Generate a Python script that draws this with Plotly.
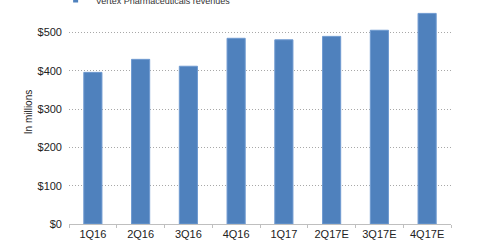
import plotly.graph_objects as go

quarters = ["1Q16", "2Q16", "3Q16", "4Q16", "1Q17", "2Q17E", "3Q17E", "4Q17E"]
revenues = [396, 430, 412, 485, 481, 490, 506, 550]
series_name = "Vertex Pharmaceuticals revenues"
y_ticks = [0, 100, 200, 300, 400, 500]
y_tick_labels = ["$0", "$100", "$200", "$300", "$400", "$500"]
y_top_tick = 600
y_top_label = "$600"

FONT = "Liberation Sans, Arial, sans-serif"
BLUE = "#4f81bd"

fig = go.Figure()
fig.add_trace(go.Bar(
    x=quarters, y=revenues, name=series_name,
    marker=dict(color=BLUE, line=dict(color="#6f9ad0", width=1)),
    showlegend=False, legendgroup="rev",
))
# legend entry with a small square swatch, as in the reference
fig.add_trace(go.Scatter(
    x=[None], y=[None], mode="markers", name=series_name, legendgroup="rev",
    marker=dict(symbol="square", size=5, color=BLUE), showlegend=True,
))

fig.add_annotation(
    x=0, xref="paper", xanchor="right", xshift=-6,
    y=y_top_tick, yref="y", yanchor="middle", yshift=-3,
    text=y_top_label, showarrow=False,
    font=dict(family=FONT, size=11, color="#222222"),
)

fig.update_layout(
    width=480, height=251,
    margin=dict(l=69, r=29, t=0, b=27, autoexpand=False),
    paper_bgcolor="white", plot_bgcolor="white",
    bargap=0.62,
    font=dict(family=FONT, size=11, color="#222222"),
    legend=dict(
        orientation="h", x=-0.035, y=1.0, xanchor="left", yanchor="middle",
        font=dict(family=FONT, size=9, color="#333333"),
        itemwidth=30, bgcolor="rgba(0,0,0,0)",
    ),
    xaxis=dict(
        type="category", range=[-0.5, 7.5],
        showline=True, linecolor="#bfbfbf", linewidth=1,
        ticks="outside", tickson="boundaries", ticklen=3, tickcolor="#bfbfbf",
        showgrid=False, tickfont=dict(family=FONT, size=11, color="#222222"),
        fixedrange=True,
    ),
    yaxis=dict(
        range=[0, 585], tickvals=y_ticks, ticktext=y_tick_labels,
        showgrid=True, gridcolor="#a8a8a8", griddash="1px,2px", gridwidth=1,
        zeroline=False, showline=False, ticks="",
        ticklabelstandoff=6,
        tickfont=dict(family=FONT, size=11, color="#222222"),
        title=dict(text="In millions", font=dict(family=FONT, size=10, color="#222222"), standoff=3),
        fixedrange=True,
    ),
)

fig.write_html("out.html")
